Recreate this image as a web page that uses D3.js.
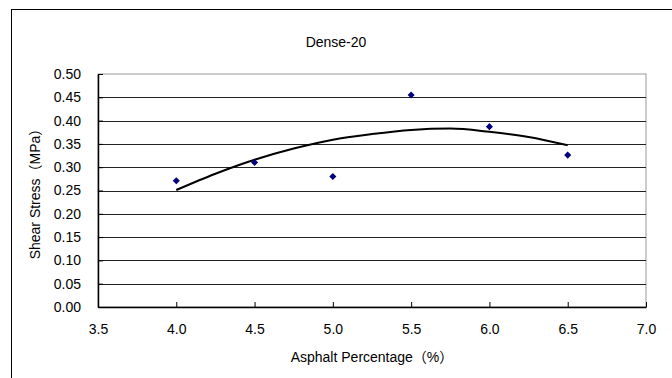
<!DOCTYPE html>
<html>
<head>
<meta charset="utf-8">
<script src="https://cdn.jsdelivr.net/npm/d3@7"></script>
<style>
  body { margin: 0; background: #fff; }
  svg text { font-family: "Liberation Sans", Arial, "Noto Sans CJK JP", sans-serif; font-size: 14px; fill: #000; }
</style>
</head>
<body>
<svg id="chart" width="672" height="378"></svg>
<script>
// measured points
const asphalt = [4.0, 4.5, 5.0, 5.5, 6.0, 6.5]
const shear = [0.271, 0.310, 0.280, 0.455, 0.387, 0.326]

// trend line
const trendX = [4.0, 4.25, 4.5, 4.75, 5.0, 5.25, 5.5, 5.75, 6.0, 6.25, 6.5]
const trendY = [0.251, 0.286, 0.316, 0.340, 0.359, 0.371, 0.380, 0.383, 0.376, 0.365, 0.347]

const xTicks = [3.5, 4.0, 4.5, 5.0, 5.5, 6.0, 6.5, 7.0]
const yTicks = [0, 0.05, 0.10, 0.15, 0.20, 0.25, 0.30, 0.35, 0.40, 0.45, 0.50]

const svg = d3.select("#chart")

const plotLeft = 98, plotRight = 646, plotTop = 74, plotBottom = 307

const x = d3.scaleLinear().domain([3.5, 7.0]).range([plotLeft, plotRight])
const y = d3.scaleLinear().domain([0, 0.5]).range([plotBottom, plotTop])

// outer chart border (runs off the right and bottom)
svg.append("rect")
   .attr("x", 11.5).attr("y", 9.5)
   .attr("width", 700).attr("height", 400)
   .attr("fill", "none")
   .attr("stroke", "#000")
   .attr("stroke-width", 1)

// plot area frame
svg.append("rect")
   .attr("x", plotLeft).attr("y", plotTop)
   .attr("width", plotRight - plotLeft).attr("height", plotBottom - plotTop)
   .attr("fill", "#fff")
   .attr("stroke", "#999")
   .attr("stroke-width", 1)

// gridlines
svg.append("g")
   .selectAll("line")
   .data(yTicks.filter(d => d > 0 && d < 0.5))
   .enter().append("line")
   .attr("x1", plotLeft).attr("x2", plotRight)
   .attr("y1", d => Math.round(y(d)) + 0.5)
   .attr("y2", d => Math.round(y(d)) + 0.5)
   .attr("stroke", "#222")
   .attr("stroke-width", 1)

// x axis
const xAxis = svg.append("g")
   .attr("transform", "translate(0," + plotBottom + ")")
   .call(d3.axisBottom(x)
           .tickValues(xTicks)
           .tickFormat(d3.format(".1f"))
           .tickSizeInner(-5)
           .tickSizeOuter(0)
           .tickPadding(17))
xAxis.select(".domain").attr("stroke", "#000").attr("stroke-width", 1.5)
xAxis.selectAll("line").attr("stroke", "#000")
xAxis.selectAll("text").attr("font-size", 14)

// y axis
const yAxis = svg.append("g")
   .attr("transform", "translate(" + plotLeft + ",0)")
   .call(d3.axisLeft(y)
           .tickValues(yTicks)
           .tickFormat(d3.format(".2f"))
           .tickSizeInner(-5)
           .tickSizeOuter(0)
           .tickPadding(17))
yAxis.select(".domain").attr("stroke", "#000").attr("stroke-width", 1.5)
yAxis.selectAll("line").attr("stroke", "#000")
yAxis.selectAll("text").attr("font-size", 14)

// trend line
const line = d3.line()
   .x(d => x(d[0]))
   .y(d => y(d[1]))
   .curve(d3.curveMonotoneX)

svg.append("path")
   .datum(trendX.map((d, i) => [d, trendY[i]]))
   .attr("d", line)
   .attr("fill", "none")
   .attr("stroke", "#000")
   .attr("stroke-width", 2)

// markers
svg.append("g")
   .selectAll("path")
   .data(asphalt.map((d, i) => [d, shear[i]]))
   .enter().append("path")
   .attr("d", d3.symbol().type(d3.symbolDiamond2).size(32))
   .attr("transform", d => "translate(" + x(d[0]) + "," + y(d[1]) + ")")
   .attr("fill", "#000080")

// titles
svg.append("text")
   .attr("x", 336).attr("y", 47)
   .attr("text-anchor", "middle")
   .text("Dense-20")

svg.append("text")
   .attr("x", 372).attr("y", 362)
   .attr("text-anchor", "middle")
   .text("Asphalt Percentage（%）")

svg.append("text")
   .attr("transform", "translate(40," + (plotTop + plotBottom) / 2 + ") rotate(-90)")
   .attr("text-anchor", "middle")
   .text("Shear Stress（MPa）")
</script>
</body>
</html>
